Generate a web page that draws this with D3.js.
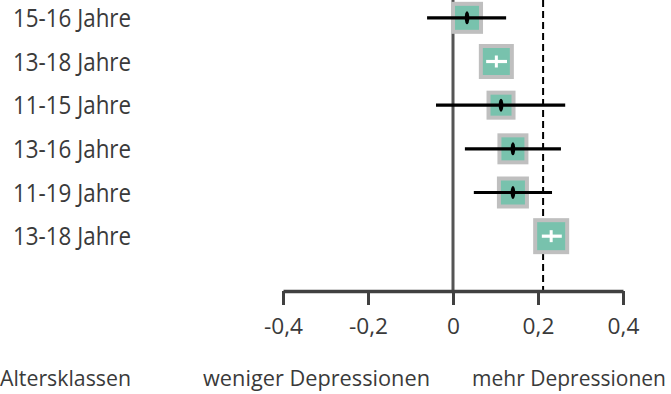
<!DOCTYPE html>
<html><head><meta charset="utf-8">
<script src="https://cdn.jsdelivr.net/npm/d3@7"></script>
<style>body{margin:0;background:#fff}svg{display:block}text{font-family:"Open Sans",sans-serif;fill:#3a3a3a}</style>
</head><body><svg id="c" width="671" height="394"></svg>
<script>
const labels = ["15-16 Jahre","13-18 Jahre","11-15 Jahre","13-16 Jahre","11-19 Jahre","13-18 Jahre"];
const effect = [0.033, 0.102, 0.113, 0.141, 0.141, 0.231];
const ciLow  = [-0.061, 0.078, -0.040, 0.028, 0.049, 0.209];
const ciHigh = [0.125, 0.127, 0.264, 0.254, 0.233, 0.256];
const weight = [32, 35, 29, 31, 32, 36];
const xTicks = [-0.4,-0.2,0,0.2,0.4];
const tickLabels = ["-0,4","-0,2","0","0,2","0,4"];
const overall = 0.212;
const footer = ["Altersklassen","weniger Depressionen","mehr Depressionen"];

const svg = d3.select("#c");
const x = d3.scaleLinear().domain([-0.4,0.4]).range([283,623]);
const y = d3.scaleBand().domain(d3.range(labels.length)).range([-4,258]);
const axisY = 291;

function squeeze(sel, f){ sel.each(function(){ const l=this.getComputedTextLength(); d3.select(this).attr("textLength",l*f).attr("lengthAdjust","spacingAndGlyphs"); }); }

// zero line
svg.append("line").attr("x1",x(0)).attr("x2",x(0)).attr("y1",0).attr("y2",axisY)
  .attr("stroke","#555").attr("stroke-width",3);
// overall dashed
svg.append("line").attr("x1",x(overall)).attr("x2",x(overall)).attr("y1",0).attr("y2",axisY)
  .attr("stroke","#000").attr("stroke-width",2).attr("stroke-dasharray","7,4");

// axis
const axis = d3.axisBottom(x).tickValues(xTicks).tickFormat((d,i)=>tickLabels[i]).tickSize(14).tickSizeOuter(0).tickPadding(14);
const g = svg.append("g").attr("transform",`translate(0,${axisY})`).call(axis);
g.select(".domain").attr("stroke","#404040").attr("stroke-width",3.5);
g.selectAll(".tick line").attr("stroke","#404040").attr("stroke-width",3);
const tt = g.selectAll(".tick text").attr("font-size",21).style("fill","#3a3a3a")
  .style("font-family","'Open Sans',sans-serif");
squeeze(tt, 1.08);

// labels
const lab = svg.append("g").selectAll("text").data(labels).join("text")
  .attr("x",13).attr("y",(d,i)=>y(i)+y.bandwidth()/2+9)
  .attr("font-size",25).text(d=>d);
squeeze(lab, 0.895);

const rows = svg.append("g").selectAll("g").data(effect).join("g");
rows.each(function(d,i){
  const gg = d3.select(this);
  const cy = y(i)+y.bandwidth()/2;
  const s = weight[i];
  gg.append("rect").attr("x",x(d)-s/2+2).attr("y",cy-s/2+2).attr("width",s-4).attr("height",s-4)
    .attr("fill","#78c2ad").attr("stroke","#bfbfbf").attr("stroke-width",4);
  const inside = (x(ciHigh[i])-x(ciLow[i])) < s-6;
  const col = inside ? "#fff" : "#000";
  gg.append("line").attr("x1",x(ciLow[i])).attr("x2",x(ciHigh[i])).attr("y1",cy).attr("y2",cy)
    .attr("stroke",col).attr("stroke-width",3.2);
  if(inside){
    gg.append("line").attr("x1",x(d)).attr("x2",x(d)).attr("y1",cy-6).attr("y2",cy+6)
      .attr("stroke","#fff").attr("stroke-width",3);
  } else {
    gg.append("ellipse").attr("cx",x(d)).attr("cy",cy).attr("rx",2.3).attr("ry",6.5).attr("fill","#000");
  }
});

// footer
const fx = [0, 203, 472];
const fw = [131, 227, 194];
svg.append("g").selectAll("text").data(footer).join("text")
  .attr("x",(d,i)=>fx[i]).attr("y",386).attr("font-size",21).text(d=>d)
  .attr("textLength",(d,i)=>fw[i]).attr("lengthAdjust","spacingAndGlyphs");
</script></body></html>
